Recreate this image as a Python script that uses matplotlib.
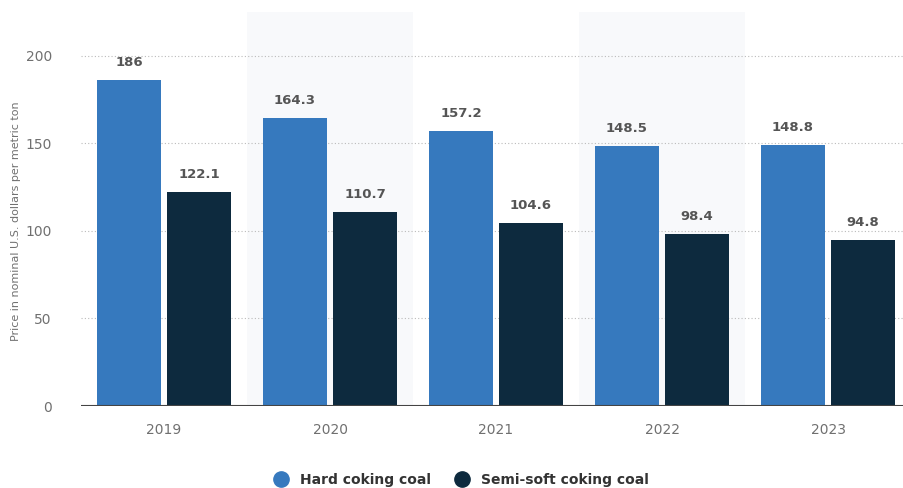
import matplotlib
matplotlib.use("Agg")
import matplotlib.pyplot as plt
from matplotlib.lines import Line2D
import numpy as np

years = ["2019", "2020", "2021", "2022", "2023"]
hard_coking = [186, 164.3, 157.2, 148.5, 148.8]
semi_soft = [122.1, 110.7, 104.6, 98.4, 94.8]
series_names = ["Hard coking coal", "Semi-soft coking coal"]
yticks = [0, 50, 100, 150, 200]

c_hard = "#3679be"
c_semi = "#0d2a3e"

plt.rcParams["font.family"] = ["DejaVu Sans"]

fig = plt.figure(figsize=(9.04, 4.88), dpi=100)
ax = fig.add_axes([81 / 904, 82 / 488, 830 / 904, 394 / 488])

x = np.arange(len(years))
w = 0.38
off = 0.211

# alternating background bands
for i in x:
    if i % 2 == 1:
        ax.axvspan(i - 0.5, i + 0.5, color="#f8f9fb", zorder=0, lw=0)

b1 = ax.bar(x - off, hard_coking, width=w, color=c_hard, zorder=3)
b2 = ax.bar(x + off, semi_soft, width=w, color=c_semi, zorder=3)

def fmt(v):
    return f"{v:g}"

for bars, vals in ((b1, hard_coking), (b2, semi_soft)):
    for rect, v in zip(bars, vals):
        ax.annotate(fmt(v), (rect.get_x() + rect.get_width() / 2, v),
                    xytext=(0, 8), textcoords="offset points",
                    ha="center", va="bottom", fontsize=9.5,
                    fontweight="bold", color="#555555", zorder=4)

ax.set_xlim(-0.5, len(years) - 0.5)
ax.set_ylim(0, 225)
ax.set_yticks(yticks)
ax.set_xticks(x)
ax.set_xticklabels(years)
ax.tick_params(axis="both", length=0, labelsize=10, colors="#707070")
ax.tick_params(axis="y", pad=21)
ax.tick_params(axis="x", pad=12)

for t in yticks[1:]:
    ax.axhline(t, color="#bbbbbb", lw=0.8, ls=(0, (1, 2)), zorder=1)
ax.axhline(0, color="#444444", lw=1.5, zorder=5)

for s in ax.spines.values():
    s.set_visible(False)

ax.set_ylabel("Price in nominal U.S. dollars per metric ton",
              fontsize=8, color="#707070")
ax.yaxis.set_label_coords(-0.072, 0.47)

handles = [Line2D([], [], marker="o", ls="", markersize=11, color=c_hard),
           Line2D([], [], marker="o", ls="", markersize=11, color=c_semi)]
leg = fig.legend(handles, series_names, loc="center", bbox_to_anchor=(458 / 904, 1 - 480 / 488),
                 ncol=2, frameon=False, handletextpad=0.4, columnspacing=1.2,
                 prop={"size": 10, "weight": "bold"})
for t in leg.get_texts():
    t.set_color("#333333")

fig.savefig("out.png", dpi=100)
